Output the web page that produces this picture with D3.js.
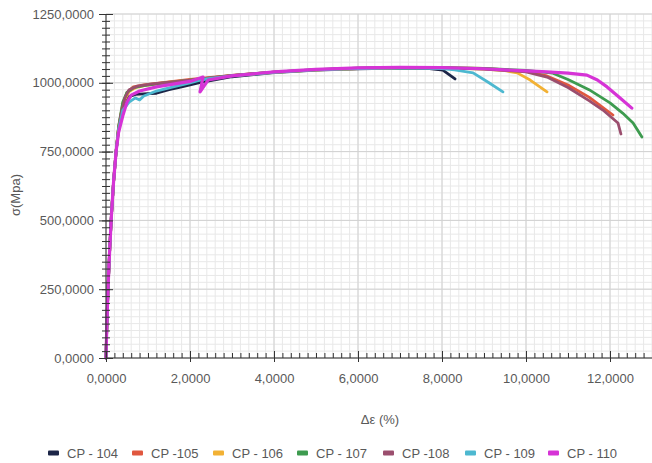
<!DOCTYPE html>
<html>
<head>
<meta charset="utf-8">
<script src="https://cdn.jsdelivr.net/npm/d3@7"></script>
<style>
  body { margin: 0; background: #fff; }
  svg text { font-family: "Liberation Sans", Arial, sans-serif; }
</style>
</head>
<body>
<svg id="chart" width="652" height="463"></svg>
<script>
// stress-strain curves, [strain %, stress MPa]
var cp104 = [[0,0],[0.02,120],[0.05,260],[0.09,400],[0.13,520],[0.18,640],[0.24,750],[0.3,835],[0.36,880],[0.45,925],[0.55,950],[0.7,958],[0.9,960],[1.2,962],[1.5,975],[1.8,985],[2.2,1000],[3,1022],[4,1037],[5,1046],[6,1051],[7,1053],[7.7,1052],[8.02,1046],[8.31,1014]];
var cp105 = [[0,0],[0.02,120],[0.05,260],[0.09,400],[0.13,520],[0.18,640],[0.24,750],[0.3,840],[0.4,920],[0.5,965],[0.65,985],[0.9,992],[1.3,1000],[2,1012],[3,1027],[4,1039],[5,1047],[6,1052],[7,1055],[8,1055],[9,1052],[10,1042],[10.5,1025],[11,992],[11.5,948],[12.07,883]];
var cp106 = [[0,0],[0.02,120],[0.05,260],[0.09,400],[0.13,520],[0.18,640],[0.24,750],[0.3,835],[0.4,925],[0.55,968],[0.7,982],[1,992],[1.5,1002],[2,1010],[3,1026],[4,1038],[5,1047],[6,1052],[7,1054],[8,1054],[9,1050],[9.5,1044],[9.79,1036],[10.1,1010],[10.5,967]];
var cp107 = [[0,0],[0.02,120],[0.05,260],[0.09,400],[0.13,520],[0.18,640],[0.24,750],[0.3,840],[0.4,930],[0.5,965],[0.65,982],[0.9,990],[1.3,998],[2,1010],[3,1026],[4,1039],[5,1048],[6,1053],[7,1055],[8,1055],[9,1052],[10,1045],[10.64,1035],[11,1012],[11.5,975],[12,927],[12.3,890],[12.55,854],[12.76,803]];
var cp108 = [[0,0],[0.02,120],[0.05,260],[0.09,400],[0.13,520],[0.18,640],[0.24,750],[0.3,830],[0.35,880],[0.45,945],[0.55,975],[0.75,988],[1.1,996],[2,1010],[3,1027],[4,1039],[5,1048],[6,1053],[7,1055],[8,1054],[9,1050],[10,1040],[10.5,1021],[11,983],[11.5,935],[11.83,901],[12.19,854],[12.26,814]];
var cp109 = [[0,0],[0.02,120],[0.05,260],[0.09,400],[0.13,520],[0.18,640],[0.24,750],[0.3,830],[0.4,900],[0.55,930],[0.7,945],[0.8,938],[0.9,952],[1.2,970],[1.6,985],[2,1000],[2.3,1012],[3,1025],[4,1038],[5,1047],[6,1052],[7,1054],[8,1052],[8.3,1047],[8.74,1036],[9.1,1002],[9.45,967]];
var cp110 = [[0,0],[0.02,120],[0.05,260],[0.09,400],[0.13,520],[0.18,640],[0.24,750],[0.3,820],[0.4,880],[0.5,930],[0.6,955],[0.8,970],[1.2,985],[1.6,995],[2,1005],[2.31,1021],[2.24,967],[2.43,1010],[3,1025],[4,1040],[5,1049],[6,1054],[7,1056],[8,1055],[9,1051],[10,1043],[10.5,1040],[11,1035],[11.45,1028],[11.7,1010],[11.93,985],[12.24,945],[12.52,908]];

var seriesNames = ["CP - 104", "CP -105", "CP - 106", "CP - 107", "CP -108", "CP - 109", "CP - 110"];
var seriesData = [cp104, cp105, cp106, cp107, cp108, cp109, cp110];
var colors = ["#1c2547", "#e0573f", "#f2b134", "#3d9b4f", "#9b4e6e", "#4db8d0", "#d633d6"];

var xMajor = [0, 2, 4, 6, 8, 10, 12];
var yMajor = [0, 250, 500, 750, 1000, 1250];

var svg = d3.select("#chart");
var plotLeft = 106, plotRight = 652, plotTop = 14, plotBottom = 358;

var x = d3.scaleLinear().domain([0, 13]).range([plotLeft, plotRight]);
var y = d3.scaleLinear().domain([0, 1250]).range([plotBottom, plotTop]);

var fmt = d3.format(".4f");
var comma = function (v) { return fmt(v).replace(".", ","); };

// grid
var xMinor = d3.range(0, 13.01, 0.2);
var yMinor = d3.range(0, 1251, 25);
var grid = svg.append("g");
grid.selectAll(".vx").data(xMinor).enter().append("line")
    .attr("x1", function (d) { return x(d); }).attr("x2", function (d) { return x(d); })
    .attr("y1", plotTop).attr("y2", plotBottom)
    .attr("stroke", "#e8e8e8").attr("stroke-width", 1);
grid.selectAll(".hy").data(yMinor).enter().append("line")
    .attr("x1", plotLeft).attr("x2", plotRight)
    .attr("y1", function (d) { return y(d); }).attr("y2", function (d) { return y(d); })
    .attr("stroke", "#e8e8e8").attr("stroke-width", 1);
grid.selectAll(".vX").data(xMajor).enter().append("line")
    .attr("x1", function (d) { return x(d); }).attr("x2", function (d) { return x(d); })
    .attr("y1", plotTop).attr("y2", plotBottom)
    .attr("stroke", "#d2d2d2").attr("stroke-width", 1);
grid.selectAll(".hY").data(yMajor).enter().append("line")
    .attr("x1", plotLeft).attr("x2", plotRight)
    .attr("y1", function (d) { return y(d); }).attr("y2", function (d) { return y(d); })
    .attr("stroke", "#d2d2d2").attr("stroke-width", 1);

// curves
var line = d3.line()
    .x(function (d) { return x(d[0]); })
    .y(function (d) { return y(d[1]); });

seriesData.forEach(function (s, i) {
    svg.append("path")
        .datum(s)
        .attr("d", line)
        .attr("fill", "none")
        .attr("stroke", colors[i])
        .attr("stroke-width", i === 6 ? 3.2 : 2.8)
        .attr("stroke-linejoin", "round")
        .attr("stroke-linecap", "round");
});

// axes
var yAxisMinor = svg.append("g")
    .attr("transform", "translate(" + plotLeft + ",0)")
    .call(d3.axisLeft(y).tickValues(yMinor).tickSize(4).tickFormat(""));
yAxisMinor.selectAll(".tick line").attr("x1", 4).attr("stroke", "#333");
yAxisMinor.select(".domain").remove();

var yAxis = svg.append("g")
    .attr("transform", "translate(" + plotLeft + ",0)")
    .call(d3.axisLeft(y).tickValues(yMajor).tickSize(7).tickPadding(5).tickFormat(comma));
yAxis.selectAll(".tick line").attr("x1", 7).attr("stroke", "#333");
yAxis.select(".domain").attr("d", "M0," + plotTop + "V" + plotBottom).attr("stroke", "#333");
yAxis.selectAll("text").attr("font-size", 13).attr("fill", "#595959");

var xAxisMinor = svg.append("g")
    .attr("transform", "translate(0," + plotBottom + ")")
    .call(d3.axisTop(x).tickValues(xMinor).tickSize(5).tickFormat(""));
xAxisMinor.selectAll(".tick line").attr("stroke", "#333");
xAxisMinor.select(".domain").remove();

var xAxis = svg.append("g")
    .attr("transform", "translate(0," + plotBottom + ")")
    .call(d3.axisBottom(x).tickValues(xMajor).tickSize(4).tickPadding(12).tickFormat(comma));
xAxis.selectAll(".tick line").attr("y1", -7).attr("stroke", "#333");
xAxis.select(".domain").attr("d", "M" + plotLeft + ",0H" + plotRight).attr("stroke", "#333");
xAxis.selectAll("text").attr("font-size", 13).attr("fill", "#595959");

// titles
svg.append("text")
    .attr("x", 380).attr("y", 424)
    .attr("text-anchor", "middle")
    .attr("font-size", 13).attr("fill", "#595959")
    .text("Δε (%)");

svg.append("text")
    .attr("transform", "translate(20,195) rotate(-90)")
    .attr("text-anchor", "middle")
    .attr("font-size", 13).attr("fill", "#595959")
    .text("σ(Mpa)");

// legend
var legendX = [48, 132, 213, 297, 383, 465, 548];
var legend = svg.append("g");
seriesNames.forEach(function (name, i) {
    var g = legend.append("g").attr("transform", "translate(" + legendX[i] + ",453)");
    g.append("rect").attr("x", 0).attr("y", -2.5).attr("width", 11).attr("height", 5)
        .attr("rx", 1).attr("fill", colors[i]);
    g.append("text").attr("x", 19).attr("y", 4.5)
        .attr("font-size", 13).attr("fill", "#595959")
        .text(name);
});
</script>
</body>
</html>
